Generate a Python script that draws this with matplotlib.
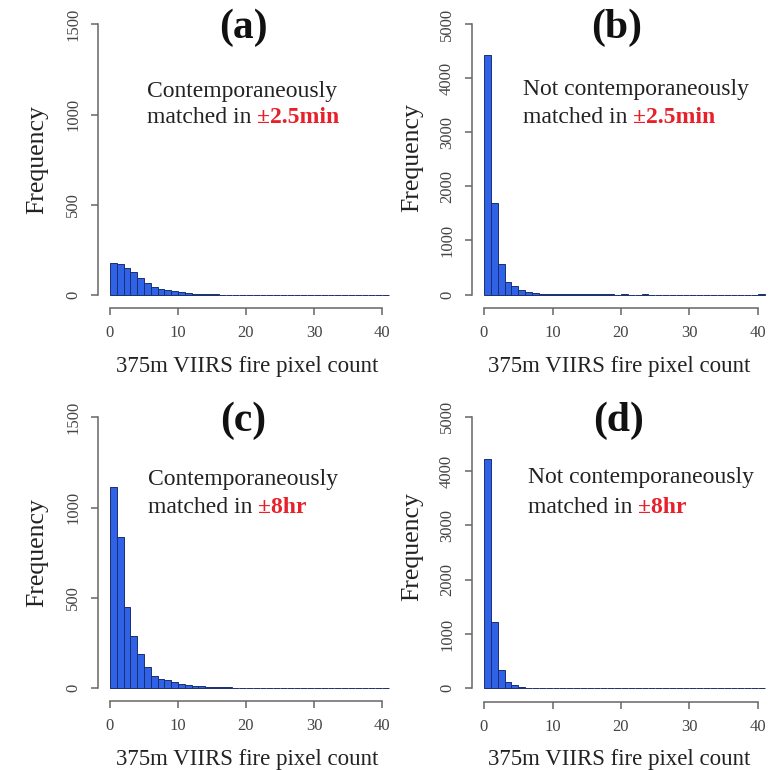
import matplotlib
matplotlib.use("Agg")
import matplotlib.pyplot as plt
import numpy as np

# histograms of 375m VIIRS fire pixel counts, bins of width 1 starting at 0
counts_a = [178, 174, 152, 128, 95, 68, 46, 37, 31, 24, 20, 10, 9, 7, 8, 5, 4, 3, 2, 2,
            1, 2, 1, 4, 1, 1, 1, 0, 1, 0, 1, 0, 0, 1, 0, 0, 1, 0, 0, 0, 1]
counts_b = [4420, 1700, 560, 235, 150, 75, 37, 20, 12, 8, 5, 4, 3, 2, 2, 1, 1, 1, 1, 0,
            1, 0, 0, 1, 0, 0, 0, 0, 0, 0, 0, 0, 0, 0, 0, 0, 0, 0, 0, 0, 1]
counts_c = [1115, 835, 448, 289, 189, 118, 67, 54, 44, 35, 26, 18, 14, 11, 9, 8, 6, 5, 4, 3,
            3, 2, 2, 4, 2, 1, 1, 1, 1, 0, 1, 0, 1, 0, 0, 1, 0, 0, 0, 0, 1]
counts_d = [4217, 1226, 337, 122, 61, 25, 12, 7, 5, 3, 2, 2, 1, 1, 1, 1, 0, 1, 0, 0,
            0, 0, 0, 1, 0, 0, 0, 0, 0, 0, 0, 0, 0, 0, 0, 0, 0, 0, 0, 0, 0]

panel_names = ["(a)", "(b)", "(c)", "(d)"]
line1 = ["Contemporaneously", "Not contemporaneously", "Contemporaneously", "Not contemporaneously"]
line2 = "matched in "
windows = ["\u00b12.5min", "\u00b12.5min", "\u00b18hr", "\u00b18hr"]
x_ticks = [0, 10, 20, 30, 40]
y_ticks_small = [0, 500, 1000, 1500]
y_ticks_big = [0, 1000, 2000, 3000, 4000, 5000]

W, H = 777, 770
SERIF = ["Liberation Serif", "DejaVu Serif"]
plt.rcParams["font.family"] = SERIF

fig = plt.figure(figsize=(W / 100, H / 100), dpi=100)


def px_rect(x0, sx, y0, sy, xlim, ylim):
    left = x0 + xlim[0] * sx
    right = x0 + xlim[1] * sx
    top = y0 - ylim[1] * sy
    bottom = y0 - ylim[0] * sy
    return [left / W, 1 - bottom / H, (right - left) / W, (bottom - top) / H]


# x0, sx, y0, sy, ylim, yticks, text layout (px)
layout = [
    dict(x0=110, sx=6.8, y0=295.3, sy=0.1807, ylim=(-70, 1560), yt=y_ticks_small,
         title=(243, 28), txt=(147, 97, 123), ylab=(37, 160), xlab=(247, 366)),
    dict(x0=484, sx=6.85, y0=294.5, sy=0.0541, ylim=(-250, 5200), yt=y_ticks_big,
         title=(617, 28), txt=(523, 95, 123), ylab=(412, 158), xlab=(619, 366)),
    dict(x0=110, sx=6.8, y0=688.3, sy=0.1807, ylim=(-70, 1560), yt=y_ticks_small,
         title=(243, 421), txt=(148, 485, 513), ylab=(37, 553), xlab=(247, 759)),
    dict(x0=484, sx=6.85, y0=688.3, sy=0.0543, ylim=(-250, 5200), yt=y_ticks_big,
         title=(619, 421), txt=(528, 483, 513), ylab=(412, 547), xlab=(619, 759)),
]

all_counts = [counts_a, counts_b, counts_c, counts_d]
xlim = (-1.8, 41.8)

for i, (counts, L) in enumerate(zip(all_counts, layout)):
    ax = fig.add_axes(px_rect(L["x0"], L["sx"], L["y0"], L["sy"], xlim, L["ylim"]))
    ax.patch.set_alpha(0)
    edges = np.arange(len(counts))
    ax.bar(edges, counts, width=1, align="edge", color="#2f62e6",
           edgecolor="#1b2f6e", linewidth=0.7)
    ax.set_xlim(*xlim)
    ax.set_ylim(*L["ylim"])
    ax.set_xticks(x_ticks)
    ax.set_yticks(L["yt"])
    for s in ["top", "right"]:
        ax.spines[s].set_visible(False)
    ax.spines["left"].set_bounds(L["yt"][0], L["yt"][-1])
    ax.spines["bottom"].set_bounds(x_ticks[0], x_ticks[-1])
    for s in ["left", "bottom"]:
        ax.spines[s].set_color("#666666")
        ax.spines[s].set_linewidth(1.1)
    ax.tick_params(direction="out", length=5, width=1.1, color="#666666",
                   labelsize=12, labelcolor="#444444")
    ax.tick_params(axis="y", labelrotation=90, pad=7)
    ax.tick_params(axis="x", pad=7.5)
    for lab in ax.get_yticklabels():
        lab.set_va("center")

    fig.text(L["title"][0] / W, 1 - L["title"][1] / H, panel_names[i],
             fontsize=30, fontweight="bold", ha="center", va="center", color="#111111")
    tx, b1, b2 = L["txt"]
    fig.text(tx / W, 1 - b1 / H, line1[i], fontsize=17, ha="left",
             va="baseline", color="#222222")
    t2 = fig.text(tx / W, 1 - b2 / H, line2, fontsize=17, ha="left",
                  va="baseline", color="#222222")
    ax.annotate(windows[i], xy=(1, 0), xycoords=t2, ha="left", va="bottom",
                fontsize=17, fontweight="bold", color="#e8202a")
    fig.text(L["ylab"][0] / W, 1 - L["ylab"][1] / H, "Frequency", fontsize=18.5,
             rotation=90, ha="center", va="center", color="#222222")
    fig.text(L["xlab"][0] / W, 1 - L["xlab"][1] / H, "375m VIIRS fire pixel count",
             fontsize=16.5, ha="center", va="center", color="#222222")

fig.savefig("out.png", dpi=100)
